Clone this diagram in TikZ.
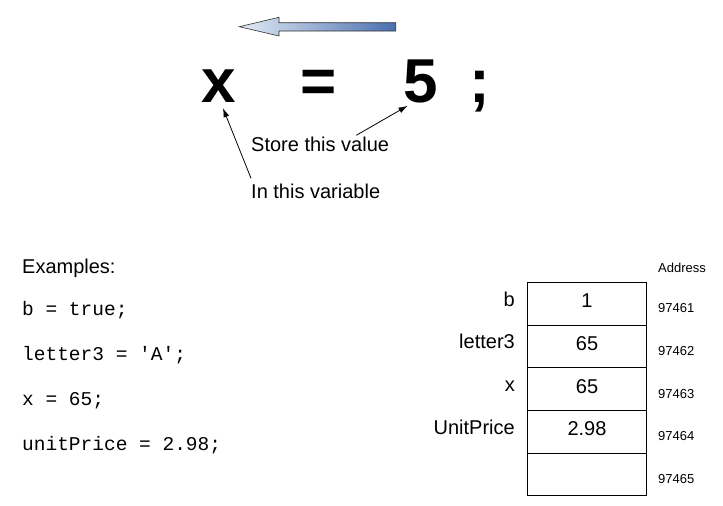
\documentclass[tikz,border=0pt]{standalone}
\usepackage{fontspec}
\setmainfont{Liberation Sans}
\setmonofont{Liberation Mono}
\usetikzlibrary{positioning,arrows.meta}

\definecolor{arrowlight}{HTML}{E2EAF5}
\definecolor{arrowdark}{HTML}{4A70B0}

\tikzset{
  big/.style={font=\fontsize{62}{70}\selectfont\bfseries, anchor=base, inner sep=2pt},
  txt/.style={font=\fontsize{20}{24}\selectfont, anchor=base west, inner sep=1pt},
  code/.style={font=\fontsize{19.5}{24}\selectfont\ttfamily, anchor=base west, inner sep=1pt},
  cell/.style={draw, line width=0.8pt, minimum width=119.4pt, minimum height=42.7pt,
    inner sep=0pt, font=\fontsize{20}{24}\selectfont, text height=14pt, text depth=6pt},
  addr/.style={font=\fontsize{13}{15}\selectfont, anchor=base west, inner sep=0pt},
  pointer/.style={line width=0.8pt, -{Latex[length=9pt,width=6pt]}},
}

\begin{document}
\begin{tikzpicture}[x=1pt, y=-1pt]
\useasboundingbox (0,0) rectangle (723,506);

\def\xv{587};
\def\ym{282.3};
\def\hc{42.7};

% direction of assignment
\shadedraw[left color=arrowlight, right color=arrowdark, draw=black!80, line width=0.6pt]
  (239.3,26.7) -- (279,17.3) -- (279,22.7) -- (395.7,22.7) -- (395.7,31)
  -- (279,31) -- (279,36) -- cycle;

\node[big] (xvar) at (219,102) {x};
\node[big] (eq) at (319,102) {=};
\node[big] (five) at (421,102) {5};
\node[big] (semi) at (480,102) {;};

\node[txt] (store) at (250,151) {Store this value};
\node[txt] (var) at (250,198) {In this variable};

\draw[pointer] ([xshift=-34pt]store.north east) -- ([xshift=6pt,yshift=-1pt]five.south west);
\draw[pointer] ([xshift=1pt,yshift=4pt]var.north west) -- ([xshift=4pt,yshift=-4pt]xvar.south);

% examples
\node[txt] (ex) at (21,273) {Examples:};
\node[code] (ex1) at (21,315) {b = true;};
\node[code] (ex2) at (21,360) {letter3 = 'A';};
\node[code] (ex3) at (21,405) {x = 65;};
\node[code] (ex4) at (21,450) {unitPrice = 2.98;};

% memory
\foreach \v [count=\i] in {1,65,65,2.98,{}}
  \node[cell] (c\i) at (\xv, \ym+\hc*\i-\hc/2) {\v};

\foreach \l [count=\i] in {b,letter3,x,UnitPrice}
  \node[txt, anchor=base east] (l\i) at (516, \ym+\hc*\i-\hc/2+2.5) {\l};

\node[addr] (addr) at (658,272.7) {Address};
\foreach \i in {1,...,5}
  \node[addr] (a\i) at (658, \ym+\hc*\i-\hc/2+9) {9746\i};

\end{tikzpicture}
\end{document}
